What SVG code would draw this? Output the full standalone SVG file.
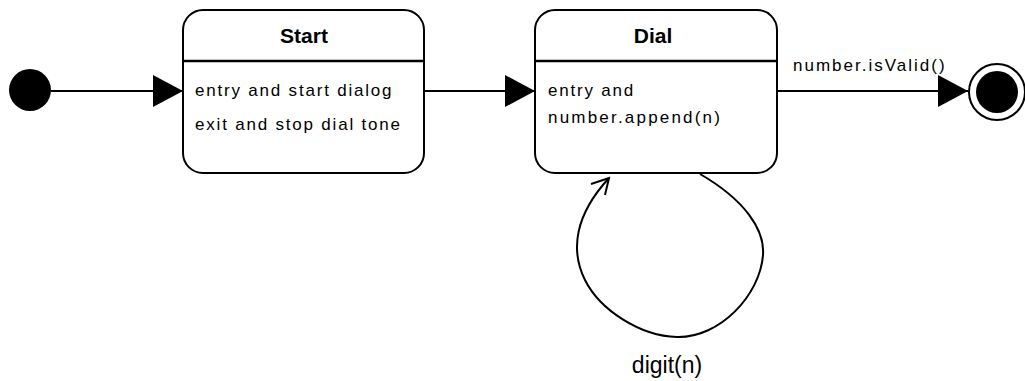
<svg xmlns="http://www.w3.org/2000/svg" width="1025" height="381" viewBox="0 0 1025 381">
<style>
.state{fill:#fff;stroke:#000;stroke-width:2}
.div{stroke:#000;stroke-width:2.5}
.title{font-family:"Liberation Sans",Arial,sans-serif;font-size:21px;font-weight:bold;text-anchor:middle;fill:#000}
.body{font-family:"Liberation Sans",Arial,sans-serif;font-size:17px;letter-spacing:1.8px;fill:#000}
.lbl{font-family:"Liberation Sans",Arial,sans-serif;font-size:17px;letter-spacing:2px;fill:#000}
.big{font-family:"Liberation Sans",Arial,sans-serif;font-size:23px;fill:#000;text-anchor:middle}
.edge{fill:none;stroke:#000;stroke-width:2}
</style>
<defs>
<marker id="tri" viewBox="0 0 30 32" refX="30" refY="16" markerWidth="30" markerHeight="32" markerUnits="userSpaceOnUse" orient="auto">
<path d="M0 0 L30 16 L0 32 Z" fill="#000"/>
</marker>
</defs>
<g id="initial">
<circle cx="30" cy="90" r="21" fill="#000"/>
</g>
<g id="start">
<rect class="state" x="183" y="10" width="241" height="163" rx="20"/>
<line class="div" x1="183" y1="61" x2="424" y2="61"/>
<text class="title" x="304" y="43">Start</text>
<text class="body" x="195" y="96">entry and start dialog</text>
<text class="body" x="195" y="130">exit and stop dial tone</text>
</g>
<g id="dial">
<rect class="state" x="535" y="10" width="242" height="163" rx="20"/>
<line class="div" x1="535" y1="61" x2="777" y2="61"/>
<text class="title" x="653" y="43">Dial</text>
<text class="body" x="548" y="96">entry and</text>
<text class="body" x="548" y="123" style="letter-spacing:2.2px">number.append(n)</text>
</g>
<g id="final">
<circle cx="997" cy="92" r="28" fill="#fff" stroke="#000" stroke-width="2"/>
<circle cx="997" cy="92" r="21" fill="#000"/>
</g>
<g id="connectors">
<line class="edge" x1="51" y1="91" x2="183" y2="91" marker-end="url(#tri)"/>
<line class="edge" x1="424" y1="91" x2="535" y2="91" marker-end="url(#tri)"/>
<line class="edge" x1="777" y1="91" x2="968" y2="91" marker-end="url(#tri)"/>
<text class="lbl" x="793" y="71">number.isValid()</text>
<path class="edge" d="M700 174 C745 200 765 230 763 255 C760 295 720 338 677 337 C640 336 600 310 585 280 C570 250 575 215 609 178"/>
<path class="edge" d="M591 184 L609 178 L605 195"/>
<text class="big" x="667" y="373">digit(n)</text>
</g>
</svg>
